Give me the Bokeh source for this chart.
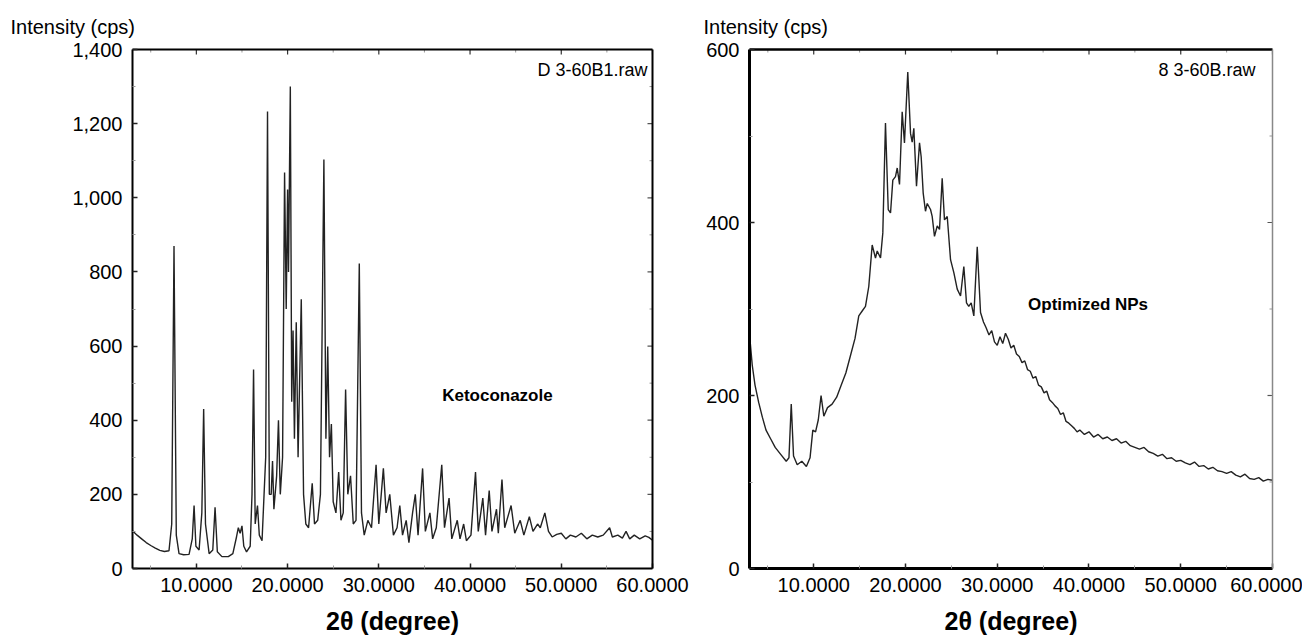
import math
from bokeh.plotting import figure
from bokeh.models import LinearAxis, FixedTicker, NumeralTickFormatter, Label, Range1d, Title
from bokeh.layouts import row
from bokeh.embed import file_html
from bokeh.resources import INLINE

# ---------------- data ----------------
keto_2theta = [3.0, 3.5, 4.0, 4.5, 5.0, 5.5, 6.0, 6.5, 7.0, 7.3, 7.55, 7.8, 8.1, 8.6, 9.2, 9.55, 9.75, 9.95,
               10.3, 10.6, 10.8, 11.0, 11.4, 11.8, 12.05, 12.3, 12.8, 13.5, 14.0, 14.4, 14.6, 14.8, 15.0, 15.2,
               15.5, 15.9, 16.1, 16.27, 16.45, 16.7, 16.9, 17.2, 17.6, 17.8, 18.0, 18.2, 18.35, 18.5, 18.8, 19.0,
               19.2, 19.45, 19.67, 19.85, 20.0, 20.1, 20.3, 20.45, 20.6, 20.75, 20.95, 21.15, 21.5, 21.75, 22.0,
               22.3, 22.7, 22.95, 23.3, 23.6, 23.98, 24.2, 24.4, 24.6, 24.8, 25.0, 25.3, 25.6, 25.85, 26.1, 26.36,
               26.6, 26.9, 27.2, 27.5, 27.86, 28.1, 28.4, 28.8, 29.2, 29.7, 30.0, 30.5, 30.8, 31.2, 31.6, 32.0,
               32.3, 32.6, 33.0, 33.3, 33.7, 34.0, 34.3, 34.8, 35.1, 35.6, 35.9, 36.3, 36.9, 37.2, 37.7, 38.0,
               38.6, 38.9, 39.3, 39.6, 40.1, 40.6, 40.9, 41.4, 41.7, 42.1, 42.4, 42.9, 43.1, 43.5, 43.8, 44.5,
               44.9, 45.5, 45.9, 46.5, 46.9, 47.4, 47.7, 48.2, 48.6, 49.0, 49.5, 50.0, 50.5, 51.0, 51.6, 52.2,
               52.8, 53.4, 54.0, 54.6, 55.3, 55.6, 56.2, 56.7, 57.1, 57.5, 58.0, 58.6, 59.2, 59.6, 60.0]
keto_cps = [102, 90, 80, 70, 62, 55, 49, 46, 48, 120, 870, 90, 40, 37, 38, 80, 170, 60,
            50, 150, 430, 120, 40, 50, 165, 45, 32, 32, 40, 85, 110, 95, 115, 60,
            45, 60, 200, 537, 120, 170, 90, 75, 300, 1233, 200, 200, 290, 160, 250, 400,
            200, 300, 1068, 700, 1022, 800, 1300, 450, 642, 350, 664, 300, 726, 200, 120,
            110, 230, 120, 130, 200, 1103, 350, 599, 300, 390, 180, 150, 260, 130, 150, 483,
            200, 250, 120, 130, 823, 150, 90, 130, 110, 280, 120, 270, 150, 200, 90, 110,
            170, 90, 130, 70, 150, 200, 90, 270, 100, 150, 80, 110, 280, 110, 190, 80,
            130, 80, 120, 75, 90, 260, 100, 190, 90, 210, 100, 160, 95, 240, 110, 170,
            95, 130, 90, 140, 100, 120, 110, 150, 100, 85, 92, 95, 80, 90, 85, 95,
            80, 90, 85, 90, 110, 85, 90, 82, 100, 80, 90, 80, 88, 84, 76]

np_2theta = [3.0, 3.3, 3.6, 4.0, 4.4, 4.8, 5.3, 5.8, 6.4, 7.0, 7.3, 7.55, 7.8, 8.2, 8.7, 9.2, 9.6, 9.9, 10.2,
             10.5, 10.8, 11.1, 11.5, 12.0, 12.5, 13.0, 13.5, 14.0, 14.5, 14.91, 15.3, 15.64, 16.0, 16.37,
             16.73, 16.92, 17.28, 17.53, 17.82, 18.12, 18.37, 18.62, 18.91, 19.10, 19.35, 19.64, 19.89, 20.25,
             20.55, 20.73, 20.91, 21.2, 21.53, 21.71, 21.93, 22.18, 22.37, 22.73, 22.91, 23.16, 23.46, 23.71,
             24.0, 24.25, 24.55, 24.91, 25.27, 25.64, 26.0, 26.36, 26.65, 26.9, 27.16, 27.45, 27.82, 28.18,
             28.5, 28.8, 29.1, 29.4, 29.7, 30.0, 30.3, 30.6, 30.9, 31.2, 31.5, 31.8, 32.1, 32.4, 32.7, 33.0,
             33.3, 33.6, 33.9, 34.2, 34.5, 34.8, 35.1, 35.4, 35.7, 36.0, 36.3, 36.6, 36.9, 37.2, 37.5, 37.8,
             38.1, 38.4, 38.7, 39.0, 39.5, 40.0, 40.5, 41.0, 41.5, 42.0, 42.5, 43.0, 43.5, 44.0, 44.5, 45.0,
             45.5, 46.0, 46.5, 47.0, 47.5, 48.0, 48.5, 49.0, 49.5, 50.0, 50.5, 51.0, 51.5, 52.0, 52.5, 53.0,
             53.5, 54.0, 54.5, 55.0, 55.5, 56.0, 56.5, 57.0, 57.5, 58.0, 58.5, 59.0, 59.5, 60.0]
np_cps = [271, 235, 212, 192, 175, 160, 150, 140, 132, 124, 128, 190, 130, 120, 124, 118, 128, 160, 158,
          172, 200, 176, 186, 190, 198, 212, 226, 246, 266, 292, 298, 303, 326, 374,
          359, 367, 359, 388, 515, 415, 411, 449, 453, 463, 444, 528, 492, 574,
          503, 493, 509, 442, 492, 476, 434, 413, 422, 415, 407, 384, 396, 392,
          451, 403, 407, 357, 342, 323, 315, 349, 307, 303, 307, 292, 372, 296,
          285, 278, 270, 275, 262, 258, 268, 260, 272, 265, 255, 258, 248, 245, 238, 240,
          230, 228, 220, 222, 212, 210, 203, 205, 195, 192, 188, 185, 178, 180, 170, 168,
          165, 162, 158, 160, 155, 158, 152, 155, 150, 152, 148, 150, 145, 147, 142, 140,
          138, 140, 135, 133, 130, 132, 127, 128, 124, 125, 122, 120, 123, 118, 119, 115,
          117, 113, 112, 110, 112, 108, 106, 109, 104, 103, 105, 101, 103, 102]

x_major = [10, 20, 30, 40, 50, 60]
x_minor = [5, 15, 25, 35, 45, 55]
keto_y_major = [0, 200, 400, 600, 800, 1000, 1200, 1400]
keto_y_minor = [100, 300, 500, 700, 900, 1100, 1300]
np_y_major = [0, 200, 400, 600]
np_y_minor = [100, 300, 500]

FONT = "Liberation Sans"
X0, X1 = 3, 60


def style_axis(ax, width, color="black"):
    ax.axis_line_width = width
    ax.axis_line_color = color
    ax.major_tick_in = 5
    ax.major_tick_out = 0
    ax.minor_tick_in = 3
    ax.minor_tick_out = 0
    ax.major_tick_line_color = "#222222"
    ax.major_tick_line_width = 1.5
    ax.minor_tick_line_color = "#999999"
    ax.minor_tick_line_width = 1
    ax.major_label_text_font = FONT
    ax.major_label_text_font_size = "20px"
    ax.major_label_text_color = "black"


def make_fig(xs, ys, ymax, ymaj, ymin, yfmt, border_left, border_right, frame_w,
             axis_w, top_w, right_w, right_color, raw_text, raw_offset, name, name_x, name_y,
             title_offset):
    p = figure(frame_width=frame_w, frame_height=519,
               x_range=Range1d(X0, X1), y_range=Range1d(0, ymax),
               output_backend="svg", toolbar_location=None,
               min_border_left=border_left, min_border_right=border_right,
               min_border_top=49, min_border_bottom=66)
    p.outline_line_color = None
    p.xgrid.visible = False
    p.ygrid.visible = False
    p.background_fill_color = "white"
    p.border_fill_color = "white"

    xa = p.xaxis[0]
    xa.ticker = FixedTicker(ticks=x_major, minor_ticks=x_minor)
    style_axis(xa, axis_w)
    xa.formatter = NumeralTickFormatter(format="0.0000")
    xa.major_label_standoff = 9
    xa.axis_label = "2θ (degree)"
    xa.axis_label_text_font = FONT
    xa.axis_label_text_font_style = "bold"
    xa.axis_label_text_font_size = "25px"
    xa.axis_label_text_color = "black"
    xa.axis_label_standoff = 12

    ya = p.yaxis[0]
    ya.ticker = FixedTicker(ticks=ymaj, minor_ticks=ymin)
    style_axis(ya, axis_w)
    ya.formatter = yfmt
    ya.major_label_standoff = 10

    # top and right frame lines (no ticks of their own)
    top = LinearAxis(ticker=FixedTicker(ticks=[]), axis_line_width=top_w, axis_line_color="black")
    p.add_layout(top, "above")
    right = LinearAxis(ticker=FixedTicker(ticks=[]), axis_line_width=right_w, axis_line_color=right_color)
    p.add_layout(right, "right")

    # inward ticks on top and right edges
    p.ray(x=x_major, y=[ymax] * len(x_major), length=5, length_units="screen",
          angle=-math.pi / 2, line_color="#333333", line_width=1.2)
    p.ray(x=x_minor, y=[ymax] * len(x_minor), length=3, length_units="screen",
          angle=-math.pi / 2, line_color="#999999", line_width=1)
    p.ray(x=[X1] * len(ymaj), y=ymaj, length=5, length_units="screen",
          angle=math.pi, line_color="#555555", line_width=1.2)
    p.ray(x=[X1] * len(ymin), y=ymin, length=3, length_units="screen",
          angle=math.pi, line_color="#999999", line_width=1)

    p.line(xs, ys, line_color="#222222", line_width=1.4)

    t = Title(text="Intensity (cps)", align="left", offset=title_offset,
              text_font=FONT, text_font_size="20px", text_font_style="normal",
              text_color="black", standoff=24)
    p.add_layout(t, "above")

    p.add_layout(Label(x=X1, y=ymax, x_offset=raw_offset, y_offset=-20,
                       text=raw_text, text_font=FONT, text_font_size="18px",
                       text_baseline="middle", text_align="right", text_color="black"))
    p.add_layout(Label(x=name_x, y=name_y, text=name, text_font=FONT,
                       text_font_size="17px", text_font_style="bold",
                       text_baseline="middle", text_align="center", text_color="black"))
    return p


p1 = make_fig(keto_2theta, keto_cps, 1400, keto_y_major, keto_y_minor,
              NumeralTickFormatter(format="0,0"), 132, 40, 520,
              2, 2, 2, "black", "D 3-60B1.raw", -5, "Ketoconazole", 43.0, 467, -122)
p2 = make_fig(np_2theta, np_cps, 600, np_y_major, np_y_minor,
              NumeralTickFormatter(format="0"), 57, 30, 523,
              3, 2.5, 1.5, "#888888", "8 3-60B.raw", -17, "Optimized NPs", 39.9, 305, -46)

layout = row(p1, p2)
open("out.html", "w").write(file_html(layout, INLINE))
